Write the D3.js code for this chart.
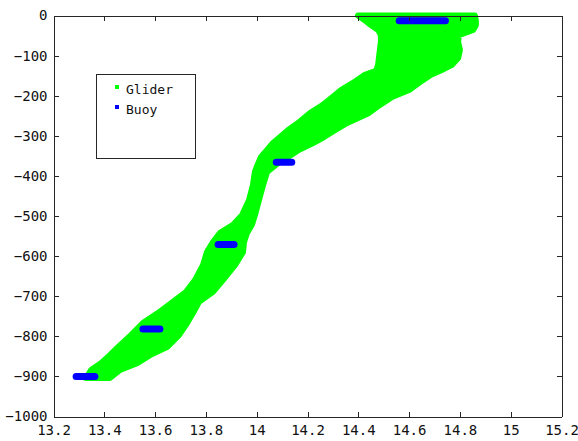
<!DOCTYPE html>
<html>
<head>
<meta charset="utf-8">
<script src="https://cdn.jsdelivr.net/npm/d3@7"></script>
<style>
  body { margin: 0; background: #fff; }
  .chart text { font-family: "DejaVu Sans Mono", monospace; fill: #111; }
  .axis path, .axis line { stroke: #262626; shape-rendering: crispEdges; }
</style>
</head>
<body>
<svg class="chart"></svg>
<script>
// glider envelope: depth (m) with coldest / warmest temperature seen there
var gliderDepth = [0, -14, -24, -36, -49, -66, -86, -106, -123, -138, -148, -168, -186, -203,
    -223, -243, -268, -286, -303, -318, -335, -353, -370, -390, -423, -460, -498, -522, -542,
    -565, -590, -622, -660, -689, -714, -742, -767, -797, -827, -847, -867, -884, -904];
var gliderMin = [14.399, 14.430, 14.450, 14.478, 14.489, 14.489, 14.485, 14.481, 14.478, 14.470,
    14.426, 14.379, 14.332, 14.300, 14.261, 14.210, 14.163, 14.123, 14.092, 14.064, 14.041,
    14.017, 14.005, 13.993, 13.985, 13.970, 13.942, 13.907, 13.856, 13.828, 13.804, 13.789,
    13.757, 13.722, 13.670, 13.611, 13.552, 13.505, 13.454, 13.422, 13.387, 13.348, 13.328];
var gliderMax = [14.859, 14.863, 14.863, 14.852, 14.796, 14.793, 14.800, 14.793, 14.769, 14.722,
    14.686, 14.639, 14.600, 14.533, 14.485, 14.442, 14.356, 14.308, 14.265, 14.222, 14.167,
    14.123, 14.080, 14.041, 14.025, 14.009, 13.993, 13.981, 13.962, 13.950, 13.946, 13.915,
    13.867, 13.828, 13.773, 13.749, 13.726, 13.694, 13.647, 13.580, 13.529, 13.462, 13.422];

// buoy sensors: depth and temperature range
var buoyDepth = [-13, -366, -571, -782, -900];
var buoyMin = [14.561, 14.077, 13.848, 13.552, 13.289];
var buoyMax = [14.743, 14.138, 13.911, 13.619, 13.363];

var xTicks = [13.2, 13.4, 13.6, 13.8, 14, 14.2, 14.4, 14.6, 14.8, 15, 15.2];
var yTicks = [0, -100, -200, -300, -400, -500, -600, -700, -800, -900, -1000];
var legendNames = ["Glider", "Buoy"];
var colors = ["#00ff00", "#0000ff"];

function show() {
    'use strict';

    var W = 578, H = 441,
        margin = {top: 15.5, bottom: 24.5, right: 16.5, left: 53.5},
        width = W - margin.left - margin.right,
        height = H - margin.top - margin.bottom;

    var svg = d3.select(".chart").attr("width", W).attr("height", H);
    svg.append("rect").attr("width", W).attr("height", H).attr("fill", "#fff");

    var chart = svg.append("g")
        .attr("transform", "translate(" + margin.left + "," + margin.top + ")");

    var x = d3.scaleLinear().domain([13.2, 15.2]).range([0, width]);
    var y = d3.scaleLinear().domain([-1000, 0]).range([height, 0]);

    // glider cloud as one filled envelope; the stroke stands in for the marker size
    var glider = gliderDepth.map(function(d, i) {
        return {depth: d, lo: gliderMin[i], hi: gliderMax[i]};
    });
    var area = d3.area()
        .y(function(d) { return y(d.depth); })
        .x0(function(d) { return x(d.lo); })
        .x1(function(d) { return x(d.hi); });
    chart.append("path").datum(glider)
        .attr("d", area)
        .attr("fill", colors[0])
        .attr("stroke", colors[0])
        .attr("stroke-width", 6)
        .attr("stroke-linejoin", "round");

    // buoy readings, one thick bar per sensor depth
    var buoy = buoyDepth.map(function(d, i) {
        return {depth: d, lo: buoyMin[i], hi: buoyMax[i]};
    });
    chart.selectAll(".buoy").data(buoy).enter().append("line")
        .attr("class", "buoy")
        .attr("x1", function(d) { return x(d.lo); })
        .attr("x2", function(d) { return x(d.hi); })
        .attr("y1", function(d) { return y(d.depth); })
        .attr("y2", function(d) { return y(d.depth); })
        .attr("stroke", colors[1])
        .attr("stroke-width", 7)
        .attr("stroke-linecap", "round");

    // axes, ticks pointing inward on all four sides
    var fmtX = function(d) { return String(d); };
    chart.append("g").attr("class", "axis")
        .attr("transform", "translate(0," + height + ")")
        .call(d3.axisBottom(x).tickValues(xTicks).tickFormat(fmtX)
            .tickSize(-5).tickSizeOuter(0).tickPadding(9))
        .selectAll("text").style("font-size", "14px");
    chart.append("g").attr("class", "axis")
        .call(d3.axisTop(x).tickValues(xTicks).tickFormat("")
            .tickSize(-5).tickSizeOuter(0));
    chart.append("g").attr("class", "axis")
        .call(d3.axisLeft(y).tickValues(yTicks).tickFormat(d3.format("d"))
            .tickSize(-5).tickSizeOuter(0).tickPadding(6))
        .selectAll("text").style("font-size", "14px");
    chart.append("g").attr("class", "axis")
        .attr("transform", "translate(" + width + ",0)")
        .call(d3.axisRight(y).tickValues(yTicks).tickFormat("")
            .tickSize(-5).tickSizeOuter(0));
    chart.selectAll(".axis .domain").attr("stroke", "#262626");
    chart.selectAll(".axis text").attr("fill", "#111");

    // legend
    var legend = svg.append("g").attr("transform", "translate(96.5,74.5)");
    legend.append("rect")
        .attr("width", 99).attr("height", 84)
        .attr("fill", "#fff").attr("stroke", "#262626");
    var items = legend.selectAll(".item").data(legendNames).enter().append("g")
        .attr("transform", function(d, i) { return "translate(0," + (12 + i * 20) + ")"; });
    items.append("rect")
        .attr("x", 18.5).attr("y", -1.5).attr("width", 4).attr("height", 4)
        .attr("fill", function(d, i) { return colors[i]; });
    items.append("text")
        .attr("x", 29.5).attr("y", 7.5)
        .style("font-size", "13px")
        .text(function(d) { return d; });
}
show();
</script>
</body>
</html>
